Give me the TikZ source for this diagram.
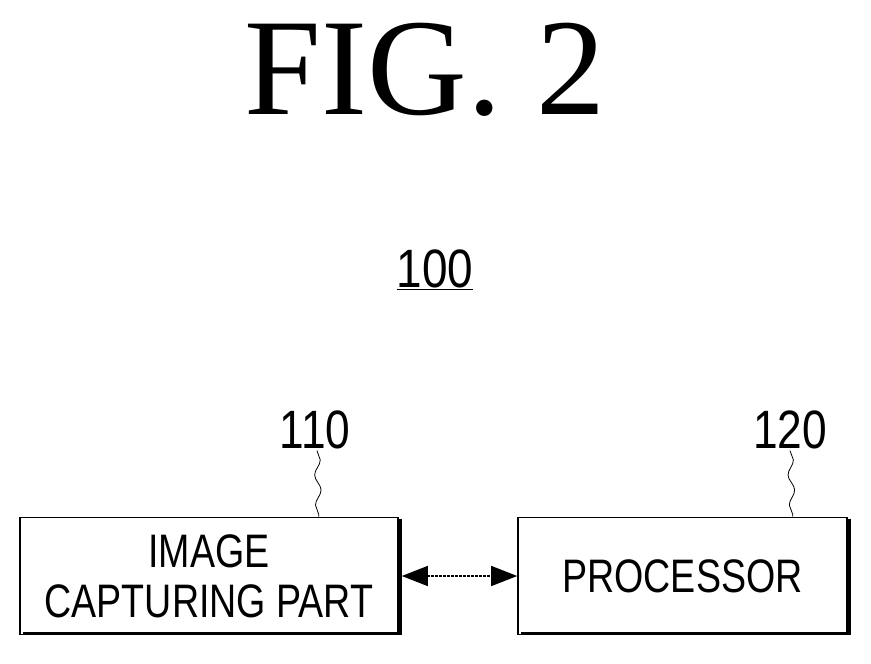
\documentclass[tikz,border=0pt]{standalone}
\usepackage{fontspec}
\setmainfont{Liberation Sans}
\newfontfamily\figfont{Liberation Serif}
\usetikzlibrary{positioning,arrows.meta,decorations.pathmorphing}

\tikzset{
  block/.style={draw,line width=1.6pt,minimum height=117pt,inner sep=0pt,
    font=\fontsize{47}{50}\selectfont,align=center},
  shade/.style={line width=3pt},
  leader/.style={line width=0.8pt,decorate,decoration={snake,amplitude=3pt,segment length=30pt}},
  refnum/.style={font=\fontsize{54}{54}\selectfont}
}

\begin{document}
\begin{tikzpicture}[x=1pt,y=-1pt]
  \useasboundingbox (0,0) rectangle (871,664);
  \node[font=\figfont\fontsize{138}{138}\selectfont] (Title) at (425,70) {FIG.\ 2};
  \node[refnum] (System) at (435,270) {\underline{\scalebox{0.85}[1]{100}}};

  \node[block,minimum width=378pt] (Camera) at (209,576)
    {\scalebox{0.8}[1]{IMAGE}\\\scalebox{0.8}[1]{CAPTURING PART}};
  \node[block,minimum width=329pt] (Processor) at (682.5,576)
    {\scalebox{0.8}[1]{PROCESSOR}};
  \draw[shade] ([xshift=2pt,yshift=-2pt]Camera.north east) -- ([xshift=2pt,yshift=2pt]Camera.south east)
    -- ([xshift=4pt,yshift=2pt]Camera.south west);
  \draw[shade] ([xshift=2pt,yshift=-2pt]Processor.north east) -- ([xshift=2pt,yshift=2pt]Processor.south east)
    -- ([xshift=4pt,yshift=2pt]Processor.south west);

  \node[refnum] (CameraNum) at (315,430) {\scalebox{0.82}[1]{110}};
  \node[refnum] (ProcessorNum) at (790,430) {\scalebox{0.82}[1]{120}};
  \coordinate (CameraTop) at ([xshift=-80pt]Camera.north east);
  \coordinate (ProcessorTop) at ([xshift=-55pt]Processor.north east);
  \draw[leader] (CameraNum.south) ++(2,-2) -- (CameraTop);
  \draw[leader] (ProcessorNum.south) ++(0,-2) -- (ProcessorTop);

  \draw[{Triangle[length=26pt,width=20pt]}-{Triangle[length=26pt,width=20pt]},line width=1.4pt,dash pattern=on 3pt off 1pt]
    ([xshift=3pt]Camera.east) -- (Processor.west);
\end{tikzpicture}
\end{document}
